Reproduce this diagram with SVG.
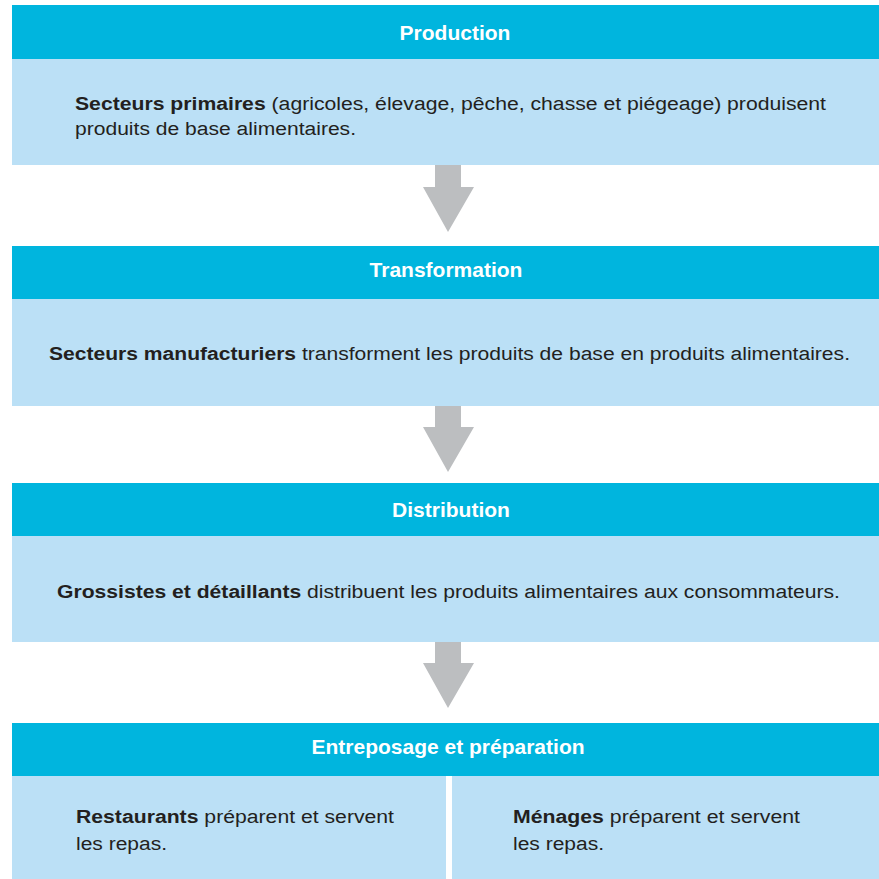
<svg xmlns="http://www.w3.org/2000/svg" width="879" height="879" viewBox="0 0 879 879">
<style>
.hdr{fill:#00B5DE}
.body{fill:#BBE0F6}
.ht{font-family:"Liberation Sans",Arial,sans-serif;font-weight:bold;font-size:21px;fill:#ffffff;text-anchor:middle}
.bt{font-family:"Liberation Sans",Arial,sans-serif;font-size:18px;fill:#231F20}
.b{font-weight:bold}
.arrow{fill:#BCBEC0}
</style>
<rect width="879" height="879" fill="#ffffff"/>
<g id="production">
<rect class="hdr" x="12" y="5" width="867" height="54"/>
<rect class="body" x="12" y="59" width="867" height="106"/>
<text class="ht" x="455" y="40">Production</text>
<text class="bt" x="75" y="110" textLength="751" lengthAdjust="spacingAndGlyphs"><tspan class="b">Secteurs primaires</tspan> (agricoles, élevage, pêche, chasse et piégeage) produisent</text>
<text class="bt" x="75" y="135" textLength="281" lengthAdjust="spacingAndGlyphs">produits de base alimentaires.</text>
</g>
<g id="transformation">
<rect class="hdr" x="12" y="246" width="867" height="53"/>
<rect class="body" x="12" y="299" width="867" height="107"/>
<text class="ht" x="446" y="277">Transformation</text>
<text class="bt" x="49" y="360" textLength="801" lengthAdjust="spacingAndGlyphs"><tspan class="b">Secteurs manufacturiers</tspan> transforment les produits de base en produits alimentaires.</text>
</g>
<g id="distribution">
<rect class="hdr" x="12" y="483" width="867" height="53"/>
<rect class="body" x="12" y="536" width="867" height="106"/>
<text class="ht" x="451" y="517">Distribution</text>
<text class="bt" x="57" y="598" textLength="783" lengthAdjust="spacingAndGlyphs"><tspan class="b">Grossistes et détaillants</tspan> distribuent les produits alimentaires aux consommateurs.</text>
</g>
<g id="entreposage">
<rect class="hdr" x="12" y="723" width="867" height="53"/>
<text class="ht" x="448" y="754">Entreposage et préparation</text>
</g>
<g id="restaurants">
<rect class="body" x="12" y="776" width="434" height="103"/>
<text class="bt" x="76" y="823" textLength="318" lengthAdjust="spacingAndGlyphs"><tspan class="b">Restaurants</tspan> préparent et servent</text>
<text class="bt" x="76" y="850" textLength="91" lengthAdjust="spacingAndGlyphs">les repas.</text>
</g>
<g id="menages">
<rect class="body" x="452" y="776" width="427" height="103"/>
<text class="bt" x="513" y="823" textLength="287" lengthAdjust="spacingAndGlyphs"><tspan class="b">Ménages</tspan> préparent et servent</text>
<text class="bt" x="513" y="850" textLength="91" lengthAdjust="spacingAndGlyphs">les repas.</text>
</g>
<g id="connectors">
<polygon class="arrow" points="435,165 461,165 461,187 474,187 448,232 423,187 435,187"/>
<polygon class="arrow" points="435,406 461,406 461,427 474,427 448,472 423,427 435,427"/>
<polygon class="arrow" points="435,642 461,642 461,663 474,663 448,708 423,663 435,663"/>
</g>
</svg>
